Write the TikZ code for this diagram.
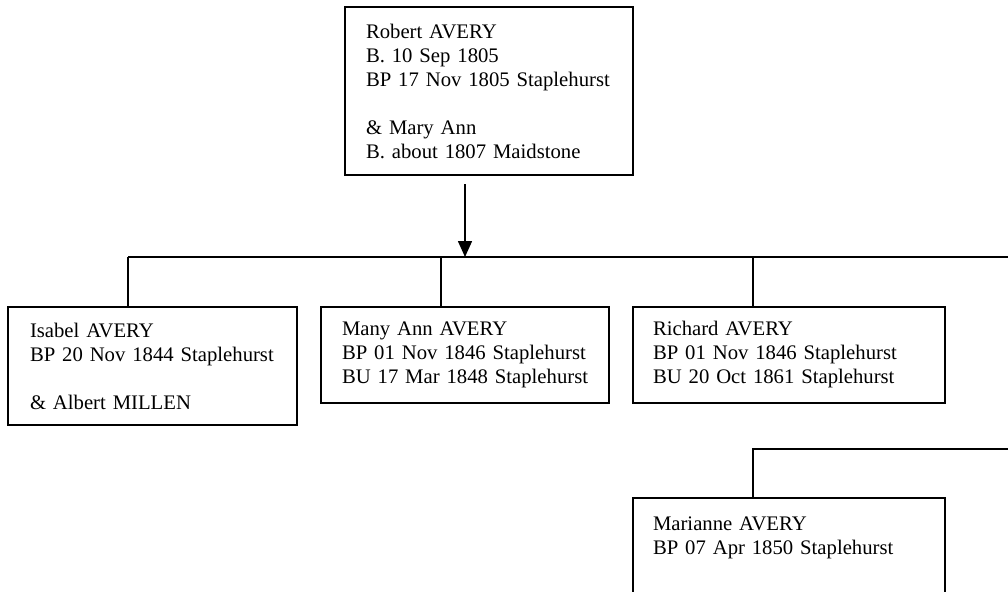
\documentclass[tikz,border=0pt]{standalone}
\usepackage{fontspec}
\setmainfont{Liberation Serif}
\usetikzlibrary{arrows.meta}
\newcommand\pline[1]{\mbox{#1}}
\begin{document}
\begin{tikzpicture}[x=1pt,y=-1pt,
  person/.style={draw, line width=1.6pt, outer sep=0pt, anchor=north west,
    align=left, inner xsep=21pt, inner ysep=0pt,
    font=\fontsize{20.7}{24}\selectfont},
  conn/.style={line width=1.6pt}]
\clip (0,0) rectangle (1008,591);
\fill[white] (0,0) rectangle (1008,591);
\node[person, text width=246pt, minimum height=168pt] (robert) at (345,7)
  {Robert AVERY\\B. 10 Sep 1805\\\pline{BP 17 Nov 1805 Staplehurst}\\[24pt]\& Mary Ann\\\pline{B. about 1807 Maidstone}};
\node[person, text width=245pt, minimum height=118pt, inner xsep=22pt] (isabel) at (8,307)
  {Isabel AVERY\\\pline{BP 20 Nov 1844 Staplehurst}\\[24pt]\& Albert MILLEN};
\node[person, text width=246pt, minimum height=96pt] (many) at (321,307)
  {Many Ann AVERY\\\pline{BP 01 Nov 1846 Staplehurst}\\\pline{BU 17 Mar 1848 Staplehurst}};
\node[person, text width=272pt, minimum height=96pt, inner xsep=20pt] (richard) at (633,307)
  {Richard AVERY\\\pline{BP 01 Nov 1846 Staplehurst}\\\pline{BU 20 Oct 1861 Staplehurst}};
\node[person, text width=272pt, inner xsep=20pt, inner ysep=0pt, text depth=100pt] (marianne) at (633,498)
  {\rule{0pt}{32pt}Marianne AVERY\\\pline{BP 07 Apr 1850 Staplehurst}};
\coordinate (as) at (465,184);
\coordinate (ae) at (465,257);
\coordinate (busL) at (128,257);
\coordinate (busR) at (1020,257);
\coordinate (manyX) at (441,257);
\coordinate (richX) at (753,257);
\coordinate (bus2L) at (753,449);
\coordinate (bus2R) at (1020,449);
\draw[conn, -{Triangle[length=16pt,width=14pt]}] (as) -- (ae);
\draw[conn] (busL) -- (busR);
\draw[conn] (busL) -- (busL |- isabel.north);
\draw[conn] (manyX) -- (manyX |- many.north);
\draw[conn] (richX) -- (richX |- richard.north);
\draw[conn] (bus2R) -- (bus2L) -- (bus2L |- marianne.north);
\end{tikzpicture}
\end{document}
